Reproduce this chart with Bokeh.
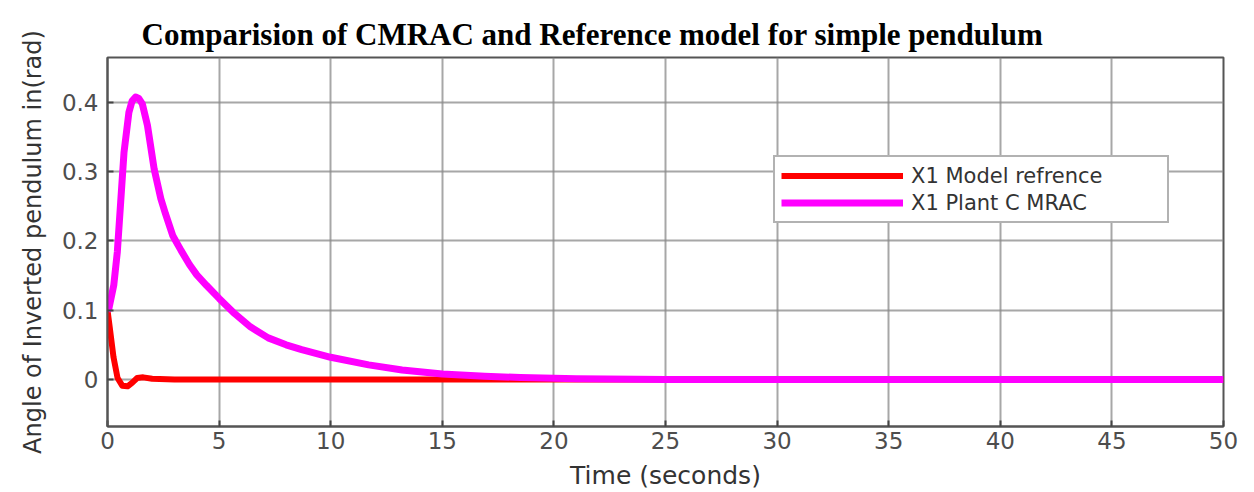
from bokeh.plotting import figure
from bokeh.models import Range1d, Legend, LegendItem, Title
from bokeh.embed import file_html
from bokeh.resources import INLINE

# Reference model response (red)
t_model = [0, 0.1, 0.27, 0.45, 0.66, 0.9, 1.1, 1.33, 1.6, 2.0, 3.0, 10, 20, 30, 40, 50]
x_model = [0.1, 0.075, 0.032, 0.002, -0.009, -0.010, -0.005, 0.002, 0.003, 0.001, 0.0, 0.0, 0.0, 0.0, 0.0, 0.0]

# Plant with CMRAC (magenta)
t_plant = [0, 0.06, 0.28, 0.44, 0.59, 0.74, 0.96, 1.1, 1.26, 1.4, 1.56, 1.79, 2.09, 2.39, 2.6, 2.92,
           3.3, 3.67, 4.0, 4.43, 5.0, 5.7, 6.4, 7.2, 8.0, 8.7, 10, 11.7, 13.2, 15, 16.9, 18.5, 21, 25, 30, 40, 50]
x_plant = [0.1, 0.102, 0.136, 0.184, 0.256, 0.328, 0.386, 0.402, 0.408, 0.406, 0.398, 0.367, 0.304, 0.261, 0.239, 0.208,
           0.186, 0.166, 0.151, 0.136, 0.117, 0.095, 0.076, 0.060, 0.050, 0.043, 0.032, 0.021, 0.0135, 0.0078, 0.0045,
           0.0027, 0.001, 0.0, 0.0, 0.0, 0.0]

x_ticks = [0, 5, 10, 15, 20, 25, 30, 35, 40, 45, 50]
y_ticks = [0, 0.1, 0.2, 0.3, 0.4]

legend_labels = ["X1 Model refrence", "X1 Plant C MRAC"]
title_text = "Comparision of CMRAC and Reference model for simple pendulum"

p = figure(width=1254, height=492, output_backend="svg", toolbar_location=None,
           x_range=Range1d(0, 50), y_range=Range1d(-0.068, 0.465),
           min_border_left=107, min_border_right=31, min_border_top=57, min_border_bottom=66)
p.background_fill_color = "white"
p.border_fill_color = "white"

p.add_layout(Title(text=title_text, text_font="Liberation Serif", text_font_style="bold",
                   text_font_size="31px", text_color="#000000", align="left", offset=34,
                   standoff=12), "above")

p.xaxis.ticker = x_ticks
p.yaxis.ticker = y_ticks
p.yaxis.major_label_overrides = {0: "0", 0.1: "0.1", 0.2: "0.2", 0.3: "0.3", 0.4: "0.4"}

for ax in (p.xaxis, p.yaxis):
    ax.major_tick_in = 6
    ax.major_tick_out = 0
    ax.minor_tick_in = 0
    ax.minor_tick_out = 0
    ax.axis_line_color = "#555555"
    ax.axis_line_width = 2
    ax.major_tick_line_color = "#444444"
    ax.major_tick_line_width = 2
    ax.major_label_text_font = "DejaVu Sans"
    ax.major_label_text_font_size = "23px"
    ax.major_label_text_color = "#4d4d4d"
    ax.axis_label_text_font = "DejaVu Sans"
    ax.axis_label_text_font_style = "normal"
    ax.axis_label_text_color = "#333333"

p.xaxis.axis_label = "Time (seconds)"
p.xaxis.axis_label_text_font_size = "25px"
p.xaxis.major_label_standoff = 5
p.xaxis.axis_label_standoff = 9

p.yaxis.axis_label = "Angle of Inverted pendulum in(rad)"
p.yaxis.axis_label_text_font_size = "24px"
p.yaxis.major_label_standoff = 9
p.yaxis.axis_label_standoff = 12

p.grid.grid_line_color = "#8a8a8a"
p.grid.grid_line_width = 2
p.grid.grid_line_alpha = 0.75
p.xgrid.minor_grid_line_color = None
p.ygrid.minor_grid_line_color = None

p.outline_line_color = "#555555"
p.outline_line_width = 2
p.outline_line_alpha = 1.0

r_model = p.line(t_model, x_model, line_color="#ff0000", line_width=6, line_join="round")
r_plant = p.line(t_plant, x_plant, line_color="#ff00ff", line_width=7, line_join="round")

legend = Legend(items=[LegendItem(label=legend_labels[0], renderers=[r_model]),
                       LegendItem(label=legend_labels[1], renderers=[r_plant])],
                location=(666, 203), padding=6, spacing=2, margin=0,
                glyph_width=122, glyph_height=25, label_height=25, label_width=250,
                label_standoff=8, label_text_font="DejaVu Sans", label_text_font_size="21px",
                label_text_color="#333333", border_line_color="#666666", border_line_width=2,
                background_fill_color="white", background_fill_alpha=1.0)
p.add_layout(legend, "center")

open("out.html", "w").write(file_html(p, INLINE))
